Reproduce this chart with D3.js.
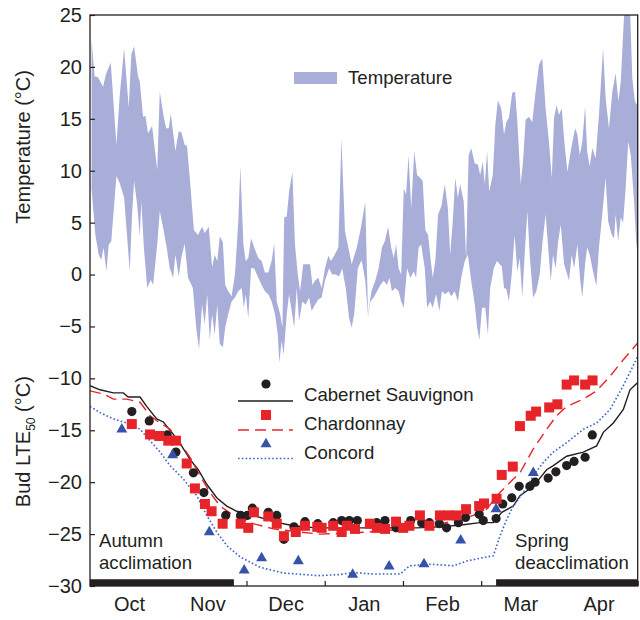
<!DOCTYPE html>
<html>
<head>
<meta charset="utf-8">
<script src="https://cdn.jsdelivr.net/npm/d3@7"></script>
<style>
  html, body { margin: 0; padding: 0; background: #fff; }
  svg text { font-family: "Liberation Sans", Arial, Helvetica, sans-serif; fill: #231f20; }
</style>
</head>
<body>
<svg id="chart" width="640" height="620"></svg>
<script>
// ---------- DATA (x in days since Oct 1; months drawn as equal 30.5-day spans) ----------
const monthLabels = ["Oct", "Nov", "Dec", "Jan", "Feb", "Mar", "Apr"];
const yTicks = [25, 20, 15, 10, 5, 0, -5, -10, -15, -20, -25, -30];

// Daily maximum temperature (upper edge of band)
const maxDay = [0.6,1.8,3.1,5.1,6.2,8.1,9.4,10.3,11.6,13.3,15.1,16.1,17.2,18.7,19.4,20.7,21.6,22.6,24.2,26.2,27.2,28.8,29.7,30.7,31.5,33.3,34.6,35.6,36.9,37.8,38.9,40.5,42.1,43.7,44.7,46.3,47.6,48.6,49.6,50.6,51.8,52.7,53.9,55.2,56.5,57.8,58.6,59.8,60.7,61.7,62.8,64.0,65.6,66.9,68.2,69.5,70.8,71.8,72.8,74.1,75.0,75.7,76.7,77.6,78.9,79.9,81.0,81.9,83.1,84.5,85.8,86.7,87.7,89.0,90.3,91.6,92.9,93.9,95.2,96.8,98.0,99.4,100.7,102.0,104.0,105.6,107.3,108.4,109.7,111.2,112.5,113.8,114.9,116.2,117.4,118.4,119.3,120.3,121.3,122.3,123.2,124.2,125.2,126.4,127.5,128.8,129.7,130.7,131.8,132.6,133.6,134.6,135.7,137.0,138.3,139.5,140.4,141.4,142.4,143.4,144.3,145.7,146.6,147.6,148.6,150.0,151.2,152.1,153.1,153.9,154.8,155.6,157.0,158.0,159.0,160.3,161.4,162.3,163.3,164.6,165.7,166.6,167.9,168.8,169.8,171.1,172.4,173.7,175.0,176.3,177.6,178.9,180.0,180.9,181.9,182.8,183.9,184.9,186.1,187.4,189.1,190.0,190.9,191.9,193.0,193.8,194.8,195.8,197.1,198.4,200.0,201.0,202.3,203.6,204.9,206.0,206.9,207.8,208.5,210.4,211.4,212.4,213.5];
const maxTemp = [22.6,19.1,19.0,18.1,19.3,20.4,15.7,12.5,17.3,21.8,16.1,21.2,22.0,19.1,18.6,15.2,15.3,13.6,14.3,10.1,17.6,15.1,14.1,14.1,15.5,11.9,13.8,13.7,12.5,12.4,9.3,4.3,3.8,4.6,4.0,4.6,0.7,1.9,1.3,3.7,3.1,-1.0,-1.6,-2.1,0.0,5.1,10.4,2.9,1.3,1.6,3.5,2.6,1.6,1.3,0.2,0.2,1.3,3.0,-2.6,-3.8,-5.1,5.5,5.6,8.0,9.9,2.9,0.0,-1.6,1.0,1.0,1.0,-1.0,-0.6,-0.3,-1.3,0.6,1.8,1.3,1.8,2.6,13.1,4.2,2.6,1.0,2.6,4.5,7.0,-3.8,-1.6,-0.6,0.6,2.6,3.2,4.6,2.6,1.6,2.9,0.6,0.0,8.3,7.7,11.5,6.4,11.9,9.6,9.3,9.0,4.3,3.8,1.9,-0.3,1.3,5.8,6.6,8.7,6.4,1.9,5.1,9.3,7.4,8.7,7.0,1.6,11.5,12.2,10.7,10.6,9.6,10.9,8.7,11.9,8.0,9.6,14.4,16.8,16.0,13.5,14.7,15.1,17.5,17.6,14.7,8.7,10.9,14.9,15.2,14.7,17.6,20.2,20.8,16.0,12.8,9.3,15.1,16.3,15.4,16.0,12.8,9.9,11.9,14.1,13.5,11.5,12.8,16.2,11.9,10.4,12.2,11.2,15.4,21.8,17.0,14.1,17.6,19.4,16.7,18.6,23.1,26.5,26.5,18.9,16.7,16.2];

// Daily minimum temperature (lower edge of band)
const minDay = [0.6,2.1,3.4,4.4,5.3,6.4,7.3,8.3,9.4,10.3,11.6,13.3,14.2,15.5,16.4,17.2,18.4,19.4,20.0,21.0,22.3,23.7,24.6,26.2,27.2,28.5,29.7,31.1,32.4,33.3,34.6,35.6,36.9,38.2,40.1,41.4,42.5,43.7,44.7,45.7,46.7,47.6,48.6,49.6,50.6,51.8,52.7,53.9,55.2,56.5,57.8,59.1,60.0,60.7,61.7,62.8,64.0,65.6,66.9,68.2,69.5,70.8,72.1,73.2,73.8,74.7,75.5,76.7,77.6,78.6,79.6,80.6,81.5,82.8,84.1,85.4,86.4,87.7,89.0,90.3,91.6,93.2,94.4,95.8,97.1,98.3,99.7,101.0,102.0,103.0,104.4,105.9,107.3,108.4,109.3,110.6,111.9,113.2,114.5,115.8,116.7,117.7,119.0,120.3,121.3,122.3,123.6,124.9,126.2,127.1,128.1,129.1,130.5,131.4,132.6,133.6,134.9,136.2,137.2,138.5,139.8,140.8,142.2,143.4,144.7,146.1,147.3,148.6,150.0,150.9,151.8,152.8,154.1,155.1,156.0,157.4,158.6,160.5,161.4,162.3,163.3,164.4,165.5,166.6,167.5,168.5,169.6,170.5,171.4,172.7,174.0,175.3,176.3,177.6,178.6,179.6,180.5,181.5,182.5,183.5,184.8,185.7,186.7,187.8,188.7,190.0,191.0,191.9,193.0,193.8,194.8,196.1,197.4,198.4,199.7,201.0,202.0,203.4,204.3,204.9,205.9,206.9,207.8,208.8,209.8,210.8,212.1,212.9,213.5];
const minTemp = [8.3,3.8,1.9,1.4,2.6,0.3,2.9,3.2,6.7,9.5,8.8,7.4,4.5,0.3,5.8,9.0,6.7,3.7,7.0,2.6,-1.3,-0.5,-1.0,2.9,6.1,4.5,2.9,0.6,-0.3,1.9,-0.2,1.6,3.0,-0.3,-1.3,-5.1,-7.2,-2.9,-4.8,-1.9,-6.3,-3.8,-5.8,-2.9,-6.7,-7.0,-5.1,-3.8,-2.6,-2.2,-1.6,-1.3,-3.2,-1.9,-4.2,0.6,0.6,-0.3,-1.0,-1.6,-1.9,-2.6,-3.8,-5.8,-8.5,-6.4,-7.7,-3.8,-1.9,-3.5,-5.1,-1.3,-4.5,-2.6,-2.9,-2.2,-3.5,-2.9,-2.4,-2.2,-0.6,0.6,0.0,0.0,-0.2,0.6,-1.3,-4.2,-5.1,-3.8,0.6,1.4,-0.6,-4.0,-2.6,-2.2,-1.6,-1.0,-0.6,-1.0,-0.3,-1.6,-1.3,-1.6,-2.6,-3.2,0.6,-0.3,0.3,-0.3,2.6,2.9,0.6,-3.2,-2.6,-3.2,-1.9,-3.5,-1.6,-1.9,-1.6,-2.1,-1.6,-2.6,-0.3,1.3,1.9,-0.6,-2.9,-5.1,-6.3,-3.2,-3.2,-5.8,-1.3,0.6,1.3,0.8,-1.3,-1.4,-2.6,0.0,3.8,0.3,1.6,-2.2,2.6,6.1,1.9,-2.2,-1.6,0.0,2.9,5.8,2.6,-0.6,1.9,0.6,3.2,4.8,1.0,0.3,-0.6,1.9,0.6,2.9,-0.3,-2.2,1.0,2.6,1.9,0.3,-1.1,2.6,5.8,9.3,5.1,3.8,3.5,5.8,3.2,5.5,5.0,8.3,12.8,11.5,7.0,3.2,1.8];

// Bud LTE50 model curves
const cabLineDay = [0,3.9,9.1,13.0,14.9,19.5,22.1,26.0,28.6,32.5,35.7,39.0,42.2,45.5,49.4,53.3,57.2,63.7,71.5,79.2,88.4,115.7,127.3,136.4,145.5,152.0,157.2,160.5,165.0,167.6,172.8,178.0,180.6,185.8,192.3,197.5,200.1,204.0,207.9,210.5,213.5];
const cabLineVal = [-10.7,-11.1,-11.4,-11.4,-11.8,-11.8,-12.7,-13.9,-14.2,-15.4,-16.5,-17.8,-18.8,-20.2,-21.5,-22.3,-22.8,-23.2,-23.8,-24.2,-24.4,-24.4,-24.4,-24.3,-24.1,-23.9,-23.9,-22.9,-22.3,-21.3,-20.4,-18.8,-18.4,-17.5,-17.1,-16.5,-15.2,-14.3,-13.0,-11.1,-10.4];
const chaLineDay = [0,5.2,9.1,14.3,19.5,23.4,27.3,31.2,35.1,39.0,42.9,46.8,50.7,55.9,63.7,71.5,81.9,89.7,109.1,122.1,135.1,144.2,149.4,154.6,159.8,165.0,167.6,172.8,178.0,181.9,185.8,192.3,197.5,202.7,207.9,213.5];
const chaLineVal = [-11.2,-11.5,-12.0,-12.0,-12.3,-13.6,-14.3,-14.9,-16.2,-17.6,-19.4,-21.0,-22.3,-23.2,-24.0,-24.5,-24.8,-25.0,-24.8,-24.5,-24.1,-23.6,-23.2,-22.6,-21.0,-19.7,-19.1,-16.8,-14.9,-13.6,-12.7,-12.0,-11.2,-9.8,-8.2,-6.6];
const conLineDay = [0,3.9,9.1,14.3,19.5,23.4,27.3,31.2,36.4,41.6,45.5,49.4,53.3,58.5,66.3,75.3,89.0,97.5,102.6,110.4,120.8,124.7,132.5,141.6,146.8,154.6,157.2,159.8,162.4,165.0,168.9,172.8,176.7,180.6,185.8,192.3,197.5,202.7,207.9,213.5];
const conLineVal = [-12.7,-13.3,-13.9,-14.3,-14.9,-16.0,-17.1,-18.4,-19.7,-21.3,-23.2,-24.8,-26.1,-27.2,-28.2,-28.75,-29.0,-28.9,-28.7,-28.85,-28.85,-28.05,-27.9,-28.05,-27.6,-27.2,-27.1,-25.2,-23.6,-22.3,-21.0,-19.4,-18.1,-17.1,-16.2,-14.9,-14.3,-13.0,-10.7,-7.9];

// Bud LTE50 observations
const cabObsDay = [16.3,23.1,30.1,33.5,40.3,44.4,52.9,58.7,61.3,63.3,69.5,72.8,75.6,79.5,83.8,88.8,94.8,98.1,101.1,104.2,111.8,115.0,119.3,125.0,129.3,132.3,136.2,139.0,143.6,146.4,151.7,153.3,158.3,160.9,164.4,167.3,171.5,173.5,178.6,181.6,185.8,188.7,193.0,195.8];
const cabObsVal = [-13.2,-14.1,-15.45,-17.1,-19.1,-21.0,-23.2,-23.2,-23.2,-22.5,-22.9,-23.2,-25.5,-24.3,-23.8,-24.0,-23.9,-23.7,-23.7,-23.7,-23.9,-23.7,-24.4,-23.7,-23.9,-23.9,-24.0,-24.4,-23.9,-23.4,-23.1,-23.7,-23.5,-22.1,-21.5,-20.4,-20.4,-20.0,-19.6,-19.0,-18.4,-18.0,-17.6,-15.45];
const chaObsDay = [16.3,23.4,27.0,30.5,33.5,37.7,40.9,44.8,47.4,51.7,58.7,61.7,63.9,69.5,72.8,75.6,80.2,83.8,88.6,90.3,94.8,98.1,100.1,103.3,109.1,111.8,115.0,119.3,122.1,124.5,128.6,132.3,136.4,139.7,142.9,146.6,151.7,153.6,158.5,160.5,164.8,167.6,171.8,173.9,179.0,182.2,185.8,188.7,193.0,195.9];
const chaObsVal = [-14.4,-15.4,-15.55,-16.0,-16.0,-18.2,-20.6,-22.1,-22.8,-24.0,-24.0,-24.4,-22.9,-23.3,-24.0,-25.2,-24.8,-24.2,-24.3,-24.4,-24.2,-24.8,-24.2,-24.5,-24.0,-24.4,-24.5,-23.8,-24.4,-24.2,-23.2,-24.2,-23.2,-23.2,-23.2,-22.6,-22.3,-22.05,-21.6,-19.3,-18.5,-14.6,-13.6,-13.2,-12.8,-12.5,-10.6,-10.2,-10.6,-10.2];
const conObsDay = [12.4,32.2,46.5,60.1,66.9,81.2,102.4,116.6,130.2,144.5,158.3,172.8];
const conObsVal = [-14.9,-17.4,-24.8,-28.5,-27.3,-27.6,-28.9,-28.1,-27.9,-25.6,-22.6,-19.1];

// Acclimation / deacclimation periods (days)
const phaseStart = [0, 158.3];
const phaseEnd = [56.1, 213.5];
const phaseLabels = [["Autumn", "acclimation"], ["Spring", "deacclimation"]];

const seriesNames = ["Cabernet Sauvignon", "Chardonnay", "Concord"];

// ---------- CHART ----------
const svg = d3.select("#chart");
const L = 90, R = 637.7, T = 15, B = 586;
const nDays = 213.5, monthLen = nDays / 7;
const x = d3.scaleLinear().domain([0, nDays]).range([L, R]);
const y = d3.scaleLinear().domain([-30, 25]).range([B, T]);

const ink = "#231f20", bandCol = "#a9aed9", red = "#e8242b", blueM = "#3653a8", blueL = "#3b62c6";
const FS = 18.6;

svg.append("defs").append("clipPath").attr("id", "plotclip")
  .append("rect").attr("x", L).attr("y", T).attr("width", R - L).attr("height", B - T);
const plot = svg.append("g").attr("clip-path", "url(#plotclip)");

// temperature band
const upper = maxDay.map((d, i) => [d, maxTemp[i]]);
const lower = minDay.map((d, i) => [d, minTemp[i]]).reverse();
const poly = d3.line().x(p => x(p[0])).y(p => y(p[1]));
plot.append("path").attr("d", poly(upper.concat(lower)) + "Z")
  .attr("fill", bandCol).attr("stroke", "none");

// model lines
const ln = d3.line().x(p => x(p[0])).y(p => y(p[1]));
function drawLine(days, vals, color, dash, w) {
  plot.append("path").attr("d", ln(days.map((d, i) => [d, vals[i]])))
    .attr("fill", "none").attr("stroke", color).attr("stroke-width", w)
    .attr("stroke-dasharray", dash);
}
drawLine(cabLineDay, cabLineVal, ink, null, 1.4);
drawLine(chaLineDay, chaLineVal, red, "11,6", 1.4);
drawLine(conLineDay, conLineVal, blueL, "1.6,2.2", 1.6);

// phase bars
phaseStart.forEach((s, i) => {
  svg.append("rect").attr("x", x(s)).attr("y", y(-29.35))
    .attr("width", x(phaseEnd[i]) - x(s)).attr("height", y(-30) - y(-29.35))
    .attr("fill", ink);
});

// observations
const tri = d3.symbol().type(d3.symbolTriangle).size(52);
svg.append("g").selectAll("circle").data(cabObsDay).join("circle")
  .attr("cx", d => x(d)).attr("cy", (d, i) => y(cabObsVal[i])).attr("r", 4.6).attr("fill", ink);
svg.append("g").selectAll("rect").data(chaObsDay).join("rect")
  .attr("x", d => x(d) - 5).attr("y", (d, i) => y(chaObsVal[i]) - 5)
  .attr("width", 10).attr("height", 10).attr("fill", red);
svg.append("g").selectAll("path").data(conObsDay).join("path")
  .attr("d", tri).attr("transform", (d, i) => `translate(${x(d)},${y(conObsVal[i])})`)
  .attr("fill", blueM);

// axes
const fmt = d => d < 0 ? "\u2212" + Math.abs(d) : String(d);
const yAxis = svg.append("g").attr("transform", `translate(${L},0)`)
  .call(d3.axisLeft(y).tickValues(yTicks).tickSize(-5).tickPadding(8).tickFormat(fmt));
yAxis.select(".domain").remove();
yAxis.selectAll("line").attr("stroke", ink).attr("stroke-width", 1.2);
yAxis.selectAll("text").attr("font-size", 20).attr("fill", ink)
  .style("font-family", '"Liberation Sans", Arial, sans-serif');

const monthStarts = d3.range(0, 8).map(i => i * monthLen);
const monthMids = monthLabels.map((m, i) => (i + 0.5) * monthLen);
const xAxis = svg.append("g").attr("transform", `translate(0,${B})`)
  .call(d3.axisBottom(x).tickValues(monthStarts).tickSize(-5).tickFormat(""));
xAxis.select(".domain").remove();
xAxis.selectAll("line").attr("stroke", ink).attr("stroke-width", 1.2);
const xLab = svg.append("g").attr("transform", `translate(0,${B})`)
  .call(d3.axisBottom(x).tickValues(monthMids).tickSize(0).tickPadding(11)
    .tickFormat((d, i) => monthLabels[i]));
xLab.select(".domain").remove();
xLab.selectAll("text").attr("font-size", 20).attr("fill", ink)
  .style("font-family", '"Liberation Sans", Arial, sans-serif');

// frame
svg.append("rect").attr("x", L).attr("y", T).attr("width", R - L).attr("height", B - T)
  .attr("fill", "none").attr("stroke", ink).attr("stroke-width", 1.3);

// axis titles
svg.append("text").attr("transform", `translate(30,${y(12.3)}) rotate(-90)`)
  .attr("text-anchor", "middle").attr("font-size", 20).text("Temperature (°C)");
const t2 = svg.append("text").attr("transform", `translate(30,${y(-16.1)}) rotate(-90)`)
  .attr("text-anchor", "middle").attr("font-size", 20);
t2.append("tspan").text("Bud LTE");
t2.append("tspan").attr("font-size", 12).attr("dy", 5).text("50");
t2.append("tspan").attr("dy", -5).text(" (°C)");

// phase annotations
svg.append("text").attr("x", x(phaseStart[0]) + 9).attr("y", 547).attr("font-size", FS).text(phaseLabels[0][0]);
svg.append("text").attr("x", x(phaseStart[0]) + 9).attr("y", 569).attr("font-size", FS).text(phaseLabels[0][1]);
svg.append("text").attr("x", x(phaseStart[1]) + 19).attr("y", 547).attr("font-size", FS).text(phaseLabels[1][0]);
svg.append("text").attr("x", x(phaseStart[1]) + 19).attr("y", 569).attr("font-size", FS).text(phaseLabels[1][1]);

// legend: temperature
svg.append("rect").attr("x", 294).attr("y", 72).attr("width", 43).attr("height", 12).attr("fill", bandCol);
svg.append("text").attr("x", 348).attr("y", 84).attr("font-size", FS).text("Temperature");

// legend: cultivars
const lg = svg.append("g");
const legY = [401, 430, 458.5];
const lineStyles = [[ink, null, 1.4], [red, "11,6", 1.4], [blueL, "1.6,2.2", 1.6]];
seriesNames.forEach((name, i) => {
  const ly = legY[i];
  lg.append("line").attr("x1", 238).attr("x2", 293).attr("y1", ly).attr("y2", ly)
    .attr("stroke", lineStyles[i][0]).attr("stroke-dasharray", lineStyles[i][1])
    .attr("stroke-width", lineStyles[i][2]);
  lg.append("text").attr("x", 304).attr("y", ly).attr("font-size", FS).text(name);
});
lg.append("circle").attr("cx", 266).attr("cy", 384).attr("r", 4.6).attr("fill", ink);
lg.append("rect").attr("x", 261).attr("y", 410).attr("width", 10).attr("height", 10).attr("fill", red);
lg.append("path").attr("d", tri).attr("transform", "translate(266,444)").attr("fill", blueM);
</script>
</body>
</html>
